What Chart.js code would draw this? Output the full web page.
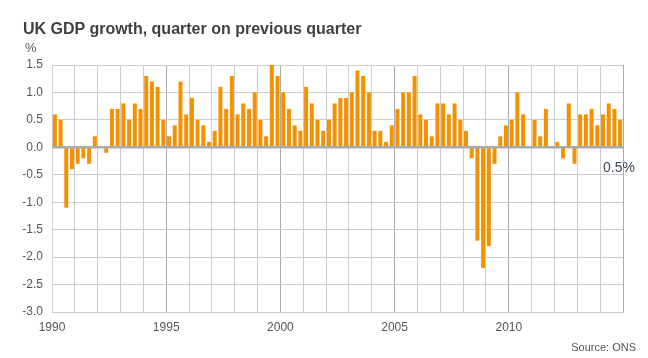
<!DOCTYPE html>
<html><head><meta charset="utf-8">
<script src="https://cdn.jsdelivr.net/npm/chart.js@4/dist/chart.umd.min.js"></script>
<style>
html,body{margin:0;padding:0;background:#fff;}
#wrap{position:relative;width:648px;height:358px;overflow:hidden;font-family:"Liberation Sans",Arial,sans-serif;}
#c{position:absolute;left:0;top:0;}
.t{position:absolute;white-space:nowrap;line-height:1;}
</style></head><body>
<div id="wrap">
<canvas id="c" width="648" height="358"></canvas>
<div class="t" style="left:23px;top:21px;font-size:16px;font-weight:bold;color:#404040">UK GDP growth, quarter on previous quarter</div>
<div class="t" style="left:25px;top:41px;font-size:13px;color:#555">%</div>
<div class="t" style="left:603px;top:160px;font-size:14px;color:#3e4858">0.5%</div>
<div class="t" style="right:12px;top:342px;font-size:11px;color:#555">Source: ONS</div>
</div>
<script>
const years = ['1990','1991','1992','1993','1994','1995','1996','1997','1998','1999',
  '2000','2001','2002','2003','2004','2005','2006','2007','2008','2009',
  '2010','2011','2012','2013','2014'];
const quarters = ['Q1','Q2','Q3','Q4'];
const yearTicks = ['1990','1995','2000','2005','2010'];

const growth1990s = [0.6,0.5,-1.1,-0.4, -0.3,-0.2,-0.3,0.2, 0.0,-0.1,0.7,0.7, 0.8,0.5,0.8,0.7, 1.3,1.2,1.1,0.5,
                     0.2,0.4,1.2,0.6, 0.9,0.5,0.4,0.1, 0.3,1.1,0.7,1.3, 0.6,0.8,0.7,1.0, 0.5,0.2,1.5,1.3];
const growth2000s = [1.0,0.7,0.4,0.3, 1.1,0.8,0.5,0.3, 0.5,0.8,0.9,0.9, 1.0,1.4,1.3,1.0, 0.3,0.3,0.1,0.4,
                     0.7,1.0,1.0,1.3, 0.6,0.5,0.2,0.8, 0.8,0.6,0.8,0.5, 0.3,-0.2,-1.7,-2.2, -1.8,-0.3,0.2,0.4];
const growth2010s = [0.5,1.0,0.6,0.0, 0.5,0.2,0.7,0.0, 0.1,-0.2,0.8,-0.3, 0.6,0.6,0.7,0.4, 0.6,0.8,0.7,0.5];

const labels = [];
years.forEach(y => quarters.forEach(q => labels.push(y + ' ' + q)));
const growth = growth1990s.concat(growth2000s, growth2010s);

const FONT = '"Liberation Sans", Arial, sans-serif';
Chart.defaults.font.family = FONT;

const zeroLine = {
  id: 'zeroLine',
  afterDatasetsDraw(chart) {
    const {ctx, chartArea, scales} = chart;
    const y = scales.y.getPixelForValue(0);
    ctx.save();
    ctx.strokeStyle = '#aaaaaa';
    ctx.lineWidth = 2.5;
    ctx.beginPath();
    ctx.moveTo(chartArea.left, y);
    ctx.lineTo(chartArea.right, y);
    ctx.stroke();
    ctx.restore();
  }
};

new Chart(document.getElementById('c'), {
  type: 'bar',
  data: {
    labels: labels,
    datasets: [{
      data: growth,
      backgroundColor: '#f39200',
      barPercentage: 0.7,
      categoryPercentage: 1.0
    }]
  },
  options: {
    responsive: false,
    animation: false,
    layout: {padding: {left: 0, right: 25, top: 65, bottom: 16}},
    plugins: {legend: {display: false}, tooltip: {enabled: false}},
    scales: {
      x: {
        offset: true,
        grid: {
          offset: true,
          drawTicks: false,
          lineWidth: 1,
          color: (c) => {
            if (c.index === undefined) return '#aaaaaa';
            const i = c.index;
            if (i % 4 !== 0) return 'rgba(0,0,0,0)';
            if (i === 0) return '#cccccc';
            return (i % 20 === 0) ? '#aaaaaa' : '#cccccc';
          }
        },
        border: {color: '#cccccc'},
        ticks: {
          autoSkip: false, maxRotation: 0, minRotation: 0,
          padding: 8, labelOffset: -2.85,
          font: {size: 12, family: FONT}, color: '#555555',
          callback: (v, i) => {
            const lab = labels[i];
            return (lab.endsWith('Q1') && yearTicks.includes(lab.slice(0, 4))) ? lab.slice(0, 4) : '';
          }
        },
        afterFit: (s) => { s.height = 30; }
      },
      y: {
        min: -3, max: 1.5,
        grid: {color: '#cccccc', drawTicks: false},
        border: {color: '#cccccc'},
        ticks: {
          stepSize: 0.5, padding: 9,
          font: {size: 12, family: FONT}, color: '#555555',
          callback: (v) => Number(v).toFixed(1)
        },
        afterFit: (s) => { s.width = 52; }
      }
    }
  },
  plugins: [zeroLine]
});
</script>
</body></html>
